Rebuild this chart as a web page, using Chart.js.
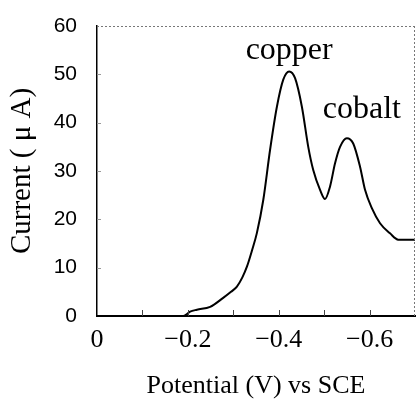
<!DOCTYPE html>
<html><head><meta charset="utf-8">
<script src="https://cdn.jsdelivr.net/npm/chart.js@4/dist/chart.umd.min.js"></script>
<style>html,body{margin:0;padding:0;background:#fff}#wrap{width:417px;height:400px}</style>
</head><body><div id="wrap"><canvas id="c" width="417" height="400"></canvas></div>
<script>
// Potential (V vs SCE) and current (µA)
const potentials = [0, -0.10, -0.19, -0.205, -0.22, -0.249, -0.277, -0.295, -0.308, -0.320, -0.330, -0.341, -0.352, -0.366, -0.381, -0.396, -0.410, -0.423, -0.436, -0.451, -0.465, -0.476, -0.491, -0.502, -0.513, -0.524, -0.535, -0.550, -0.564, -0.579, -0.590, -0.605, -0.623, -0.645, -0.663, -0.700];
const currents   = [0, 0, 0, 0.9, 1.3, 1.9, 3.7, 5.0, 6.1, 8.0, 10.2, 13.5, 17.2, 24.0, 34.4, 43.3, 48.9, 50.6, 49.2, 43.3, 35.0, 30.2, 26.1, 24.2, 26.8, 31.6, 35.0, 36.8, 35.7, 30.9, 26.1, 22.3, 19.2, 17.1, 15.8, 15.8];
const yTicks = [0, 10, 20, 30, 40, 50, 60];
const xLabelled = [0, -0.2, -0.4, -0.6];
const peakNames = ['copper', 'cobalt'];
const peakAnchors = [[-0.423, 53.2], [-0.583, 41.0]];

const points = potentials.map((p, i) => ({x: p, y: currents[i]}));

const frame = {
  id: 'frame',
  afterDraw(chart) {
    const {ctx, chartArea: a, scales: {x, y}} = chart;
    ctx.save();
    // top and right dotted borders
    ctx.strokeStyle = '#777';
    ctx.lineWidth = 1;
    ctx.setLineDash([2, 2]);
    ctx.beginPath();
    ctx.moveTo(a.left, a.top + 0.5); ctx.lineTo(a.right, a.top + 0.5);
    ctx.moveTo(a.right - 0.5, a.top); ctx.lineTo(a.right - 0.5, a.bottom);
    ctx.stroke();
    ctx.setLineDash([]);
    // inward x ticks
    ctx.strokeStyle = '#444';
    ctx.lineWidth = 1;
    ctx.beginPath();
    x.ticks.forEach(t => {
      const px = Math.round(x.getPixelForValue(t.value)) + 0.5;
      if (px <= a.left + 2 || px >= a.right - 2) return;
      ctx.moveTo(px, a.bottom); ctx.lineTo(px, a.bottom - 6);
    });
    ctx.stroke();
    // inward y ticks
    ctx.strokeStyle = '#999';
    ctx.beginPath();
    y.ticks.forEach(t => {
      const py = Math.round(y.getPixelForValue(t.value)) + 0.5;
      if (py <= a.top + 2 || py >= a.bottom - 2) return;
      ctx.moveTo(a.left, py); ctx.lineTo(a.left + 4, py);
    });
    ctx.stroke();
    // peak labels
    ctx.fillStyle = '#000';
    ctx.font = '32px "Liberation Serif", "Times New Roman", serif';
    ctx.textAlign = 'center';
    ctx.textBaseline = 'alphabetic';
    peakNames.forEach((n, i) => {
      ctx.fillText(n, x.getPixelForValue(peakAnchors[i][0]), y.getPixelForValue(peakAnchors[i][1]));
    });
    ctx.restore();
  }
};

new Chart(document.getElementById('c'), {
  type: 'line',
  data: {
    datasets: [{
      data: points,
      borderColor: '#000',
      borderWidth: 2,
      pointRadius: 0,
      fill: false,
      cubicInterpolationMode: 'monotone'
    }]
  },
  options: {
    responsive: false,
    animation: false,
    devicePixelRatio: 1,
    layout: {padding: {top: 26, right: 2, left: 0, bottom: 0}},
    plugins: {legend: {display: false}, tooltip: {enabled: false}},
    scales: {
      x: {
        type: 'linear',
        min: -0.7, max: 0,
        reverse: true,
        afterFit(s) { s.height = 84; s.paddingLeft = 0; s.paddingRight = 0; },
        grid: {display: false, drawTicks: false},
        border: {display: true, color: '#000', width: 2},
        ticks: {
          stepSize: 0.1,
          autoSkip: false,
          maxRotation: 0,
          padding: 9,
          color: '#000',
          font: {family: '"Liberation Serif", "Times New Roman", serif', size: 26},
          callback(v) {
            const r = Math.round(v * 10) / 10;
            if (!xLabelled.some(l => Math.abs(l - r) < 1e-9)) return '';
            return r === 0 ? '0' : '\u2212' + Math.abs(r).toFixed(1);
          }
        },
        title: {
          display: true,
          text: 'Potential (V) vs SCE',
          color: '#000',
          font: {family: '"Liberation Serif", "Times New Roman", serif', size: 26},
          padding: {top: 0, bottom: -2}
        }
      },
      y: {
        min: 0, max: 60,
        afterFit(s) { s.width = 97; s.paddingTop = 0; s.paddingBottom = 0; },
        afterBuildTicks(s) { s.ticks = yTicks.map(v => ({value: v})); },
        grid: {display: false, drawTicks: false},
        border: {display: true, color: '#000', width: 1.5},
        ticks: {
          padding: 20,
          color: '#000',
          font: {family: '"Liberation Sans", Arial, sans-serif', size: 21}
        },
        title: {
          display: true,
          text: 'Current ( \u03bc A)',
          color: '#000',
          font: {family: '"Liberation Serif", "Times New Roman", serif', size: 29},
          padding: {top: 5, bottom: 0}
        }
      }
    }
  },
  plugins: [frame]
});
</script></body></html>
